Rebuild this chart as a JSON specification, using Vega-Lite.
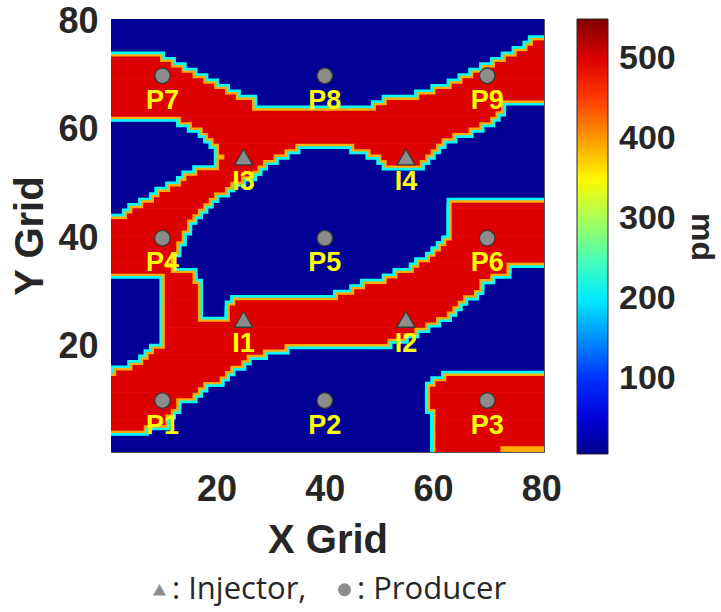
{
  "$schema": "https://vega.github.io/schema/vega-lite/v6.json",
  "width": 433,
  "height": 433,
  "autosize": "none",
  "padding": {"left": 111, "top": 19, "right": 177, "bottom": 160},
  "background": "white",
  "datasets": {
    "bg": [{"y": 1, "ye": 80, "a": 1, "b": 80, "v": 10}],
    "runs": [
      {"y": 76, "a": 79, "b": 80, "v": 500},
      {"y": 75, "a": 78, "b": 80, "v": 500},
      {"y": 74, "a": 76, "b": 80, "v": 500},
      {"y": 73, "a": 1, "b": 9, "v": 500},
      {"y": 73, "a": 74, "b": 80, "v": 500},
      {"y": 72, "a": 1, "b": 11, "v": 500},
      {"y": 72, "a": 72, "b": 80, "v": 500},
      {"y": 71, "a": 1, "b": 13, "v": 500},
      {"y": 71, "a": 70, "b": 80, "v": 500},
      {"y": 70, "a": 1, "b": 15, "v": 500},
      {"y": 70, "a": 68, "b": 80, "v": 500},
      {"y": 69, "a": 1, "b": 17, "v": 500},
      {"y": 69, "a": 66, "b": 80, "v": 500},
      {"y": 68, "a": 1, "b": 19, "v": 500},
      {"y": 68, "a": 64, "b": 80, "v": 500},
      {"y": 67, "a": 1, "b": 21, "v": 500},
      {"y": 67, "a": 61, "b": 80, "v": 500},
      {"y": 66, "a": 1, "b": 23, "v": 500},
      {"y": 66, "a": 58, "b": 80, "v": 500},
      {"y": 65, "a": 1, "b": 26, "v": 500},
      {"y": 65, "a": 52, "b": 72, "v": 500},
      {"y": 64, "a": 1, "b": 26, "v": 500},
      {"y": 64, "a": 50, "b": 72, "v": 500},
      {"y": 63, "a": 1, "b": 71, "v": 500},
      {"y": 62, "a": 14, "b": 70, "v": 500},
      {"y": 61, "a": 16, "b": 68, "v": 500},
      {"y": 60, "a": 18, "b": 66, "v": 500},
      {"y": 59, "a": 19, "b": 63, "v": 500},
      {"y": 58, "a": 20, "b": 61, "v": 500},
      {"y": 57, "a": 21, "b": 34, "v": 500},
      {"y": 57, "a": 46, "b": 60, "v": 500},
      {"y": 56, "a": 21, "b": 32, "v": 500},
      {"y": 56, "a": 49, "b": 59, "v": 500},
      {"y": 55, "a": 22, "b": 30, "v": 500},
      {"y": 55, "a": 51, "b": 58, "v": 500},
      {"y": 54, "a": 21, "b": 28, "v": 500},
      {"y": 54, "a": 52, "b": 57, "v": 500},
      {"y": 53, "a": 21, "b": 27, "v": 500},
      {"y": 52, "a": 17, "b": 26, "v": 500},
      {"y": 51, "a": 15, "b": 24, "v": 500},
      {"y": 50, "a": 14, "b": 22, "v": 500},
      {"y": 49, "a": 12, "b": 21, "v": 500},
      {"y": 48, "a": 10, "b": 19, "v": 500},
      {"y": 47, "a": 9, "b": 18, "v": 500},
      {"y": 46, "a": 7, "b": 17, "v": 500},
      {"y": 46, "a": 64, "b": 80, "v": 500},
      {"y": 45, "a": 5, "b": 16, "v": 500},
      {"y": 45, "a": 64, "b": 80, "v": 500},
      {"y": 44, "a": 4, "b": 15, "v": 500},
      {"y": 44, "a": 64, "b": 80, "v": 500},
      {"y": 43, "a": 1, "b": 14, "v": 500},
      {"y": 43, "a": 64, "b": 80, "v": 500},
      {"y": 42, "a": 1, "b": 14, "v": 500},
      {"y": 42, "a": 64, "b": 80, "v": 500},
      {"y": 41, "a": 1, "b": 13, "v": 500},
      {"y": 41, "a": 64, "b": 80, "v": 500},
      {"y": 40, "a": 1, "b": 13, "v": 500},
      {"y": 40, "a": 64, "b": 80, "v": 500},
      {"y": 39, "a": 1, "b": 12, "v": 500},
      {"y": 39, "a": 63, "b": 80, "v": 500},
      {"y": 38, "a": 1, "b": 12, "v": 500},
      {"y": 38, "a": 62, "b": 80, "v": 500},
      {"y": 37, "a": 1, "b": 11, "v": 500},
      {"y": 37, "a": 61, "b": 80, "v": 500},
      {"y": 36, "a": 1, "b": 11, "v": 500},
      {"y": 36, "a": 60, "b": 80, "v": 500},
      {"y": 35, "a": 1, "b": 10, "v": 500},
      {"y": 35, "a": 58, "b": 73, "v": 500},
      {"y": 34, "a": 1, "b": 11, "v": 500},
      {"y": 34, "a": 57, "b": 73, "v": 500},
      {"y": 33, "a": 11, "b": 15, "v": 500},
      {"y": 33, "a": 54, "b": 70, "v": 500},
      {"y": 32, "a": 11, "b": 15, "v": 500},
      {"y": 32, "a": 52, "b": 68, "v": 500},
      {"y": 31, "a": 11, "b": 16, "v": 500},
      {"y": 31, "a": 48, "b": 68, "v": 500},
      {"y": 30, "a": 11, "b": 16, "v": 500},
      {"y": 30, "a": 46, "b": 67, "v": 500},
      {"y": 29, "a": 11, "b": 16, "v": 500},
      {"y": 29, "a": 43, "b": 65, "v": 500},
      {"y": 28, "a": 11, "b": 16, "v": 500},
      {"y": 28, "a": 24, "b": 64, "v": 500},
      {"y": 27, "a": 11, "b": 16, "v": 500},
      {"y": 27, "a": 23, "b": 63, "v": 500},
      {"y": 26, "a": 11, "b": 16, "v": 500},
      {"y": 26, "a": 23, "b": 62, "v": 500},
      {"y": 25, "a": 11, "b": 16, "v": 500},
      {"y": 25, "a": 23, "b": 60, "v": 500},
      {"y": 24, "a": 11, "b": 58, "v": 500},
      {"y": 23, "a": 11, "b": 56, "v": 500},
      {"y": 22, "a": 11, "b": 54, "v": 500},
      {"y": 21, "a": 11, "b": 51, "v": 500},
      {"y": 20, "a": 11, "b": 32, "v": 500},
      {"y": 19, "a": 9, "b": 28, "v": 500},
      {"y": 18, "a": 8, "b": 25, "v": 500},
      {"y": 17, "a": 7, "b": 24, "v": 500},
      {"y": 16, "a": 5, "b": 22, "v": 500},
      {"y": 15, "a": 2, "b": 21, "v": 500},
      {"y": 14, "a": 1, "b": 20, "v": 500},
      {"y": 14, "a": 63, "b": 80, "v": 500},
      {"y": 13, "a": 1, "b": 17, "v": 500},
      {"y": 13, "a": 61, "b": 80, "v": 500},
      {"y": 12, "a": 1, "b": 16, "v": 500},
      {"y": 12, "a": 60, "b": 80, "v": 500},
      {"y": 11, "a": 1, "b": 15, "v": 500},
      {"y": 11, "a": 60, "b": 80, "v": 500},
      {"y": 10, "a": 1, "b": 12, "v": 500},
      {"y": 10, "a": 60, "b": 80, "v": 500},
      {"y": 9, "a": 1, "b": 12, "v": 500},
      {"y": 9, "a": 60, "b": 80, "v": 500},
      {"y": 8, "a": 1, "b": 11, "v": 500},
      {"y": 8, "a": 61, "b": 80, "v": 500},
      {"y": 7, "a": 1, "b": 10, "v": 500},
      {"y": 7, "a": 61, "b": 80, "v": 500},
      {"y": 6, "a": 1, "b": 10, "v": 500},
      {"y": 6, "a": 61, "b": 80, "v": 500},
      {"y": 5, "a": 1, "b": 6, "v": 500},
      {"y": 5, "a": 61, "b": 80, "v": 500},
      {"y": 4, "a": 61, "b": 80, "v": 500},
      {"y": 3, "a": 61, "b": 80, "v": 500},
      {"y": 2, "a": 61, "b": 80, "v": 500},
      {"y": 1, "a": 61, "b": 72, "v": 500},
      {"y": 1, "a": 73, "b": 80, "v": 390}
    ],
    "wells": [
      {"name": "P1", "type": "Producer", "x": 10, "y": 10},
      {"name": "P2", "type": "Producer", "x": 40, "y": 10},
      {"name": "P3", "type": "Producer", "x": 70, "y": 10},
      {"name": "P4", "type": "Producer", "x": 10, "y": 40},
      {"name": "P5", "type": "Producer", "x": 40, "y": 40},
      {"name": "P6", "type": "Producer", "x": 70, "y": 40},
      {"name": "P7", "type": "Producer", "x": 10, "y": 70},
      {"name": "P8", "type": "Producer", "x": 40, "y": 70},
      {"name": "P9", "type": "Producer", "x": 70, "y": 70},
      {"name": "I1", "type": "Injector", "x": 25, "y": 25},
      {"name": "I2", "type": "Injector", "x": 55, "y": 25},
      {"name": "I3", "type": "Injector", "x": 25, "y": 55},
      {"name": "I4", "type": "Injector", "x": 55, "y": 55}
    ]
  },
  "layer": [
    {
      "data": {"name": "bg"},
      "mark": {"type": "rect", "xOffset": -2.7, "x2Offset": 2.7, "yOffset": 2.7, "y2Offset": -2.7, "clip": true},
      "encoding": {
        "x": {"field": "a", "type": "quantitative", "title": "X Grid",
          "scale": {"domain": [0.5, 80.5], "nice": false, "zero": false},
          "axis": {"values": [20, 40, 60, 80], "title": "X Grid"}},
        "x2": {"field": "b"},
        "y": {"field": "y", "type": "quantitative", "title": "Y Grid",
          "scale": {"domain": [0.5, 80.5], "nice": false, "zero": false},
          "axis": {"values": [20, 40, 60, 80], "title": "Y Grid"}},
        "y2": {"field": "ye"},
        "color": {"field": "v", "type": "quantitative", "title": "md",
          "scale": {"type": "linear", "domain": [7, 75, 211, 346, 482, 550],
            "range": ["#00008F", "#0000FF", "#00FFFF", "#FFFF00", "#FF0000", "#800000"],
            "interpolate": "rgb", "clamp": true},
          "legend": {"orient": "right", "offset": 33, "values": [100, 200, 300, 400, 500],
            "gradientLength": 435, "gradientThickness": 31,
            "gradientStrokeColor": "#262626", "gradientStrokeWidth": 1,
            "labelFont": "Liberation Sans", "labelFontWeight": "bold", "labelFontSize": 34,
            "labelColor": "#262626", "labelOffset": 11,
            "title": "md", "titleOrient": "right", "titleAngle": 270, "titleAnchor": "middle",
            "titleBaseline": "alphabetic", "titleAlign": "center",
            "titleFont": "Liberation Sans", "titleFontWeight": "bold", "titleFontSize": 32,
            "titleColor": "#262626", "titlePadding": 16, "padding": 0}}
      }
    },
    {
      "data": {"name": "runs"},
      "mark": {"type": "rect", "xOffset": -8.1, "x2Offset": 8.1, "yOffset": 8.1, "y2Offset": -8.1, "clip": true},
      "encoding": {
        "x": {"field": "a", "type": "quantitative", "title": "X Grid"},
        "x2": {"field": "b"},
        "y": {"field": "y", "type": "quantitative", "title": "Y Grid"},
        "y2": {"field": "y"},
        "color": {"datum": 215, "type": "quantitative"}
      }
    },
    {
      "data": {"name": "runs"},
      "mark": {"type": "rect", "xOffset": -5.4, "x2Offset": 5.4, "yOffset": 5.4, "y2Offset": -5.4, "clip": true},
      "encoding": {
        "x": {"field": "a", "type": "quantitative", "title": "X Grid"},
        "x2": {"field": "b"},
        "y": {"field": "y", "type": "quantitative", "title": "Y Grid"},
        "y2": {"field": "y"},
        "color": {"datum": 390, "type": "quantitative"}
      }
    },
    {
      "data": {"name": "runs"},
      "mark": {"type": "rect", "xOffset": -3.0, "x2Offset": 3.0, "yOffset": 3.0, "y2Offset": -3.0, "clip": true},
      "encoding": {
        "x": {"field": "a", "type": "quantitative", "title": "X Grid"},
        "x2": {"field": "b"},
        "y": {"field": "y", "type": "quantitative", "title": "Y Grid"},
        "y2": {"field": "y"},
        "color": {"field": "v", "type": "quantitative"}
      }
    },
    {
      "data": {"name": "wells"},
      "transform": [{"filter": "datum.type == 'Producer'"}],
      "mark": {"type": "point", "filled": true, "fill": "#8C8C8C", "stroke": "#3A3A3A", "strokeWidth": 1.3, "opacity": 1, "size": 240},
      "encoding": {
        "x": {"field": "x", "type": "quantitative", "title": "X Grid"},
        "y": {"field": "y", "type": "quantitative", "title": "Y Grid"},
        "shape": {"field": "type", "type": "nominal",
          "scale": {"domain": ["Injector", "Producer"], "range": ["triangle-up", "circle"]},
          "legend": {"orient": "none", "legendX": 33, "legendY": 555, "direction": "horizontal",
            "title": null, "symbolSize": 170, "symbolFillColor": "#8C8C8C", "symbolStrokeColor": "#3A3A3A",
            "symbolStrokeWidth": 1, "labelFont": "Open Sans", "labelFontSize": 31, "labelColor": "#262626",
            "labelOffset": -3, "columnPadding": 22, "padding": 0,
            "labelExpr": "datum.label == 'Injector' ? ': Injector,' : ': Producer'"}}
      }
    },
    {
      "data": {"name": "wells"},
      "transform": [{"filter": "datum.type == 'Injector'"}],
      "mark": {"type": "point", "filled": true, "fill": "#8C8C8C", "stroke": "#3A3A3A", "strokeWidth": 1.3, "opacity": 1, "size": 330},
      "encoding": {
        "x": {"field": "x", "type": "quantitative", "title": "X Grid"},
        "y": {"field": "y", "type": "quantitative", "title": "Y Grid"},
        "shape": {"field": "type", "type": "nominal"}
      }
    },
    {
      "data": {"name": "wells"},
      "mark": {"type": "text", "dy": 25, "font": "Liberation Sans", "fontWeight": "bold", "fontSize": 27, "fill": "#FFFF00", "baseline": "middle", "align": "center"},
      "encoding": {
        "x": {"field": "x", "type": "quantitative", "title": "X Grid"},
        "y": {"field": "y", "type": "quantitative", "title": "Y Grid"},
        "text": {"field": "name", "type": "nominal"}
      }
    }
  ],
  "config": {
    "view": {"stroke": "#555555", "strokeWidth": 1},
    "axis": {"labelFont": "Liberation Sans", "labelFontWeight": "bold", "labelFontSize": 36, "labelColor": "#262626",
      "titleFont": "Liberation Sans", "titleFontWeight": "bold", "titleFontSize": 40, "titleColor": "#262626",
      "domain": false, "ticks": false, "grid": false},
    "axisX": {"labelPadding": 20, "titlePadding": 13},
    "axisY": {"labelPadding": 13, "titlePadding": 7}
  }
}
